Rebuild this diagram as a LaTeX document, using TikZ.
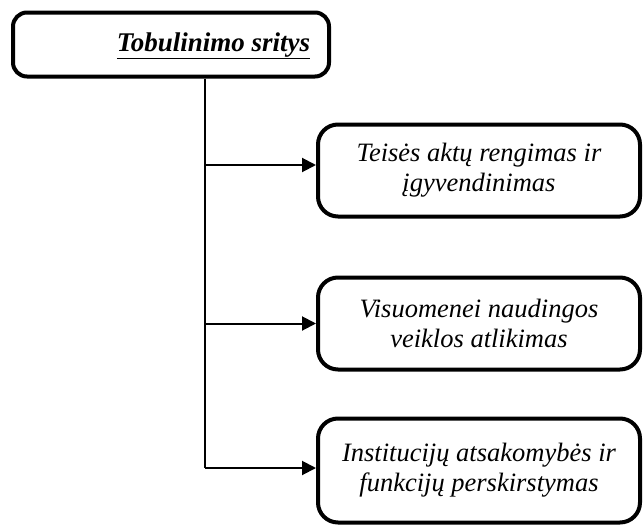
\documentclass[tikz,border=0pt]{standalone}
\usepackage{fontspec}
\setmainfont{Liberation Serif}
\usetikzlibrary{arrows.meta}
\tikzset{
  boxa/.style={draw, line width=4pt, rounded corners=14pt, inner sep=0pt},
  boxb/.style={draw, line width=4pt, rounded corners=20pt, minimum width=322pt, inner sep=0pt,
    align=center, font=\fontsize{26.5}{30}\selectfont\itshape},
  conn/.style={line width=2pt},
  arr/.style={line width=2pt, -{Triangle[length=14pt,width=14pt]}}
}
\begin{document}
\begin{tikzpicture}[x=1pt,y=-1pt]
\useasboundingbox (0,0) rectangle (643,525);
\node[boxa, minimum width=316pt, minimum height=64pt] (top) at (171,44.5) {};
\node[font=\fontsize{27}{30}\selectfont\bfseries\itshape, inner sep=0pt] (title) at (213.5,46) {\underline{Tobulinimo sritys}};
\coordinate (trunk) at (205,0);
\node[boxb, minimum height=92pt] (b1) at (479,170.5) {Teisės aktų rengimas ir\\įgyvendinimas};
\node[boxb, minimum height=92pt] (b2) at (479,323.5) {Visuomenei naudingos\\veiklos atlikimas};
\node[boxb, minimum height=104pt] (b3) at (479,470.5) {Institucijų atsakomybės ir\\funkcijų perskirstymas};
\draw[conn] (top.south -| trunk) -- ([yshift=2.5pt]b3.west -| trunk);
\draw[arr] ([yshift=5.5pt]b1.west -| trunk) -- ([yshift=5.5pt]b1.west);
\draw[arr] (b2.west -| trunk) -- (b2.west);
\draw[arr] ([yshift=2.5pt]b3.west -| trunk) -- ([yshift=2.5pt]b3.west);
\end{tikzpicture}
\end{document}
